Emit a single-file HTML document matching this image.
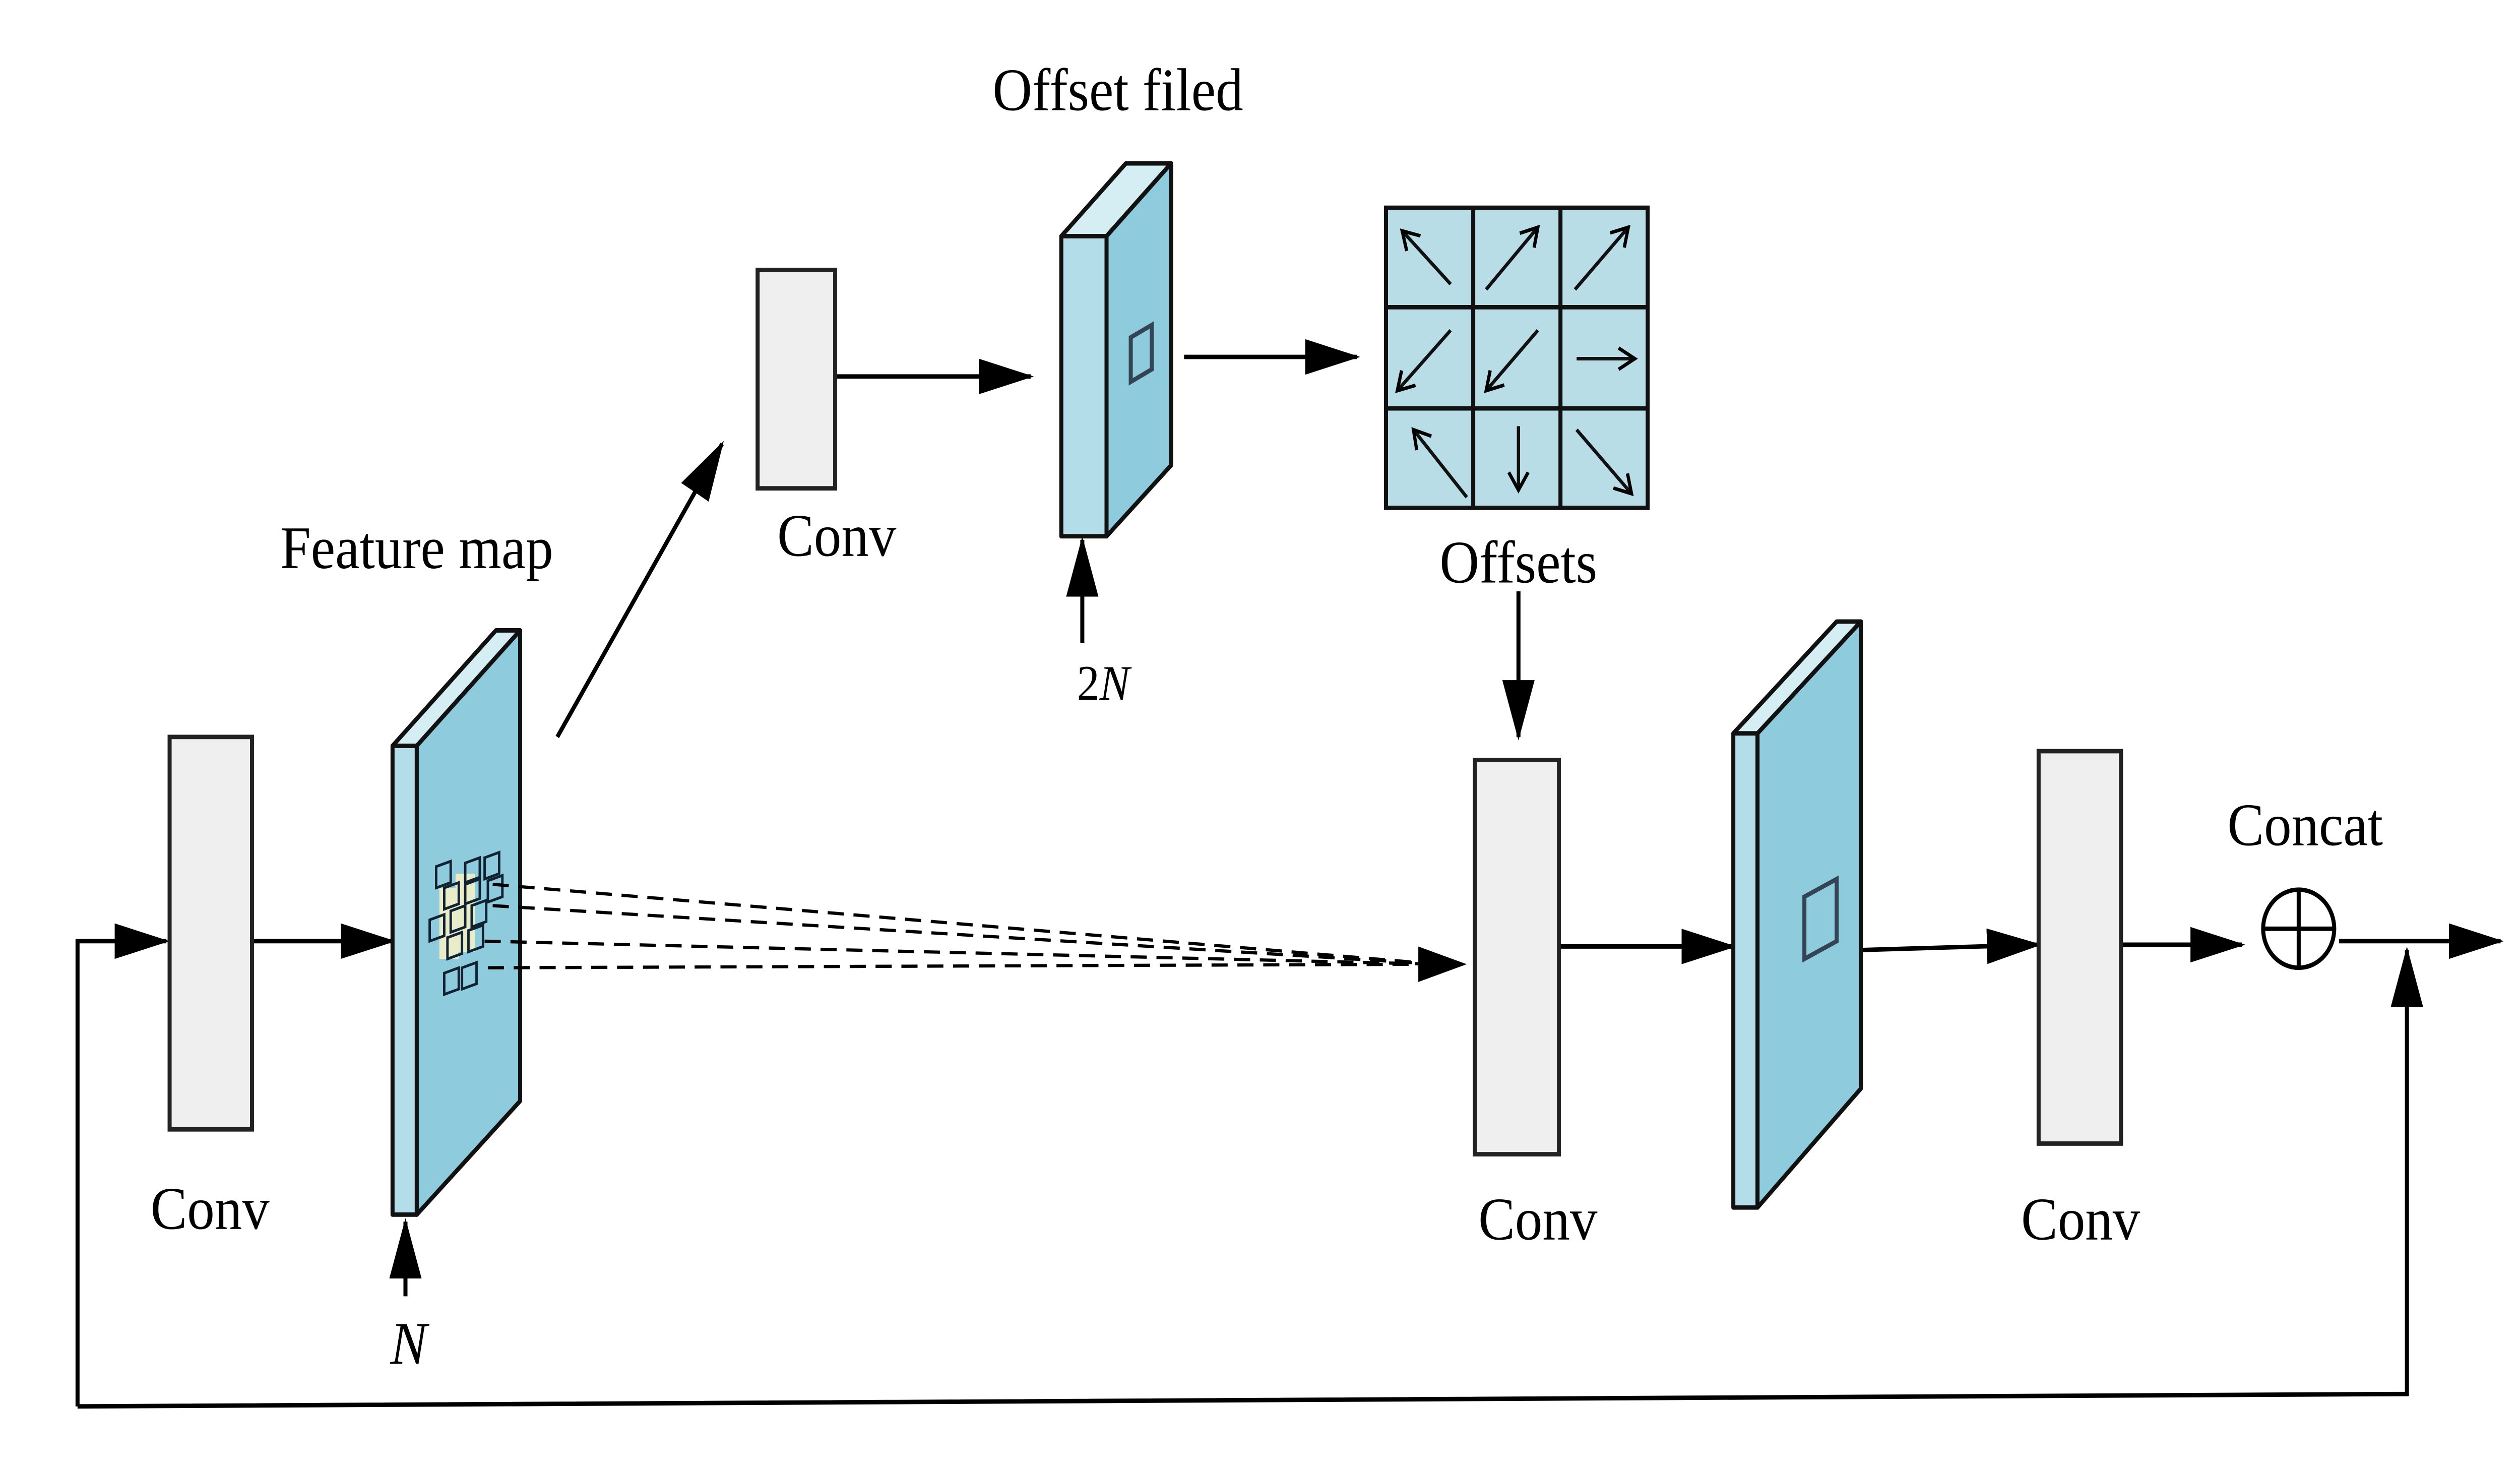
<!DOCTYPE html>
<html><head><meta charset="utf-8"><style>html,body{margin:0;padding:0;background:#fff;width:100%;height:100%;overflow:hidden}svg{display:block;position:fixed;left:0;top:0;width:100vw;height:100vh}</style></head>
<body>
<svg xmlns="http://www.w3.org/2000/svg" viewBox="0 0 1560 825" preserveAspectRatio="none">
<defs>
<marker id="a" markerUnits="userSpaceOnUse" markerWidth="34" markerHeight="24" refX="32" refY="12" orient="auto"><path d="M0,2 L34,12 L0,22 Z" fill="#000"/></marker>
<marker id="s" markerUnits="userSpaceOnUse" markerWidth="14" markerHeight="14" refX="12" refY="7" orient="auto"><path d="M2,1 L12,7 L2,13" fill="none" stroke="#000" stroke-width="2"/></marker>
</defs>
<rect width="1560" height="825" fill="#fff"/>
<g font-family="Liberation Serif, serif" font-size="34" fill="#000" text-anchor="middle">
<text x="130" y="692">Conv</text>
<text x="258" y="320">Feature map</text>
<text x="518" y="313">Conv</text>
<text x="692" y="62">Offset filed</text>
<text x="940" y="328">Offsets</text>
<text x="952" y="698">Conv</text>
<text x="1288" y="698">Conv</text>
<text x="1427" y="476">Concat</text>
<text x="253" y="768" font-style="italic">N</text>
<text x="683" y="394" font-size="28">2<tspan font-style="italic">N</tspan></text>
</g>
<g stroke="#000" stroke-width="2.5" fill="none">
<polyline points="48,792 48,530 103,530" marker-end="url(#a)"/>
<polyline points="48,792 1490,785 1490,535" marker-end="url(#a)"/>
<line x1="156" y1="530" x2="243" y2="530" marker-end="url(#a)"/>
<line x1="251" y1="730" x2="251" y2="688" marker-end="url(#a)"/>
<line x1="345" y1="415" x2="447" y2="250" marker-end="url(#a)"/>
<line x1="517" y1="212" x2="638" y2="212" marker-end="url(#a)"/>
<line x1="670" y1="362" x2="670" y2="304" marker-end="url(#a)"/>
<line x1="733" y1="201" x2="840" y2="201" marker-end="url(#a)"/>
<line x1="940" y1="333" x2="940" y2="415" marker-end="url(#a)"/>
<line x1="965" y1="533" x2="1073" y2="533" marker-end="url(#a)"/>
<line x1="1152" y1="535" x2="1262" y2="532" marker-end="url(#a)"/>
<line x1="1313" y1="532" x2="1388" y2="532" marker-end="url(#a)"/>
<line x1="1448" y1="530" x2="1548" y2="530" marker-end="url(#a)"/>
</g>
<g fill="#efefef" stroke="#222" stroke-width="2.5">
<rect x="105" y="415" width="51" height="221"/>
<rect x="469" y="152" width="48" height="123"/>
<rect x="913" y="428" width="52" height="222"/>
<rect x="1262" y="423" width="51" height="221"/>
</g>
<g stroke="#111" stroke-width="2.5" stroke-linejoin="round">
<polygon points="243,420 258,420 322,355 307,355" fill="#d5eef4"/>
<rect x="243" y="420" width="15" height="264" fill="#b3dde8"/>
<polygon points="258,420 322,355 322,620 258,684" fill="#8ecbdc"/>
</g>
<g stroke="#123" stroke-width="1.5" fill="none">
<rect x="272" y="500" width="12" height="40" fill="#e8ecc8" stroke="none"/>
<rect x="282" y="492" width="12" height="44" fill="#e8ecc8" stroke="none"/>
<path d="M270,488 l9,-3 v12 l-9,3z M288,486 l9,-3 v12 l-9,3z M300,483 l9,-3 v12 l-9,3z M275,500 l9,-3 v12 l-9,3z M288,497 l9,-3 v12 l-9,3z M302,496 l9,-3 v12 l-9,3z M266,518 l9,-3 v12 l-9,3z M279,513 l9,-3 v12 l-9,3z M292,510 l9,-3 v12 l-9,3z M277,528 l9,-3 v12 l-9,3z M290,524 l9,-3 v12 l-9,3z M275,548 l9,-3 v12 l-9,3z M286,545 l9,-3 v12 l-9,3z"/>
</g>
<g stroke="#000" stroke-width="1.8" stroke-dasharray="10,6" fill="none">
<line x1="305" y1="498" x2="890" y2="543"/>
<line x1="305" y1="510" x2="890" y2="543"/>
<line x1="300" y1="530" x2="890" y2="543"/>
<line x1="302" y1="545" x2="890" y2="543"/>
</g>
<path d="M878,533 L908,543 L878,553 Z" fill="#000"/>
<g stroke="#111" stroke-width="2.5" stroke-linejoin="round">
<polygon points="657,133 685,133 725,92 697,92" fill="#d5eef4"/>
<rect x="657" y="133" width="28" height="169" fill="#b3dde8"/>
<polygon points="685,133 725,92 725,262 685,302" fill="#8ecbdc"/>
</g>
<polygon points="700,190 713,183 713,208 700,215" fill="none" stroke="#345" stroke-width="2.5"/>
<g stroke="#111" stroke-width="2.5" stroke-linejoin="round">
<polygon points="1073,413 1088,413 1152,350 1137,350" fill="#d5eef4"/>
<rect x="1073" y="413" width="15" height="267" fill="#b3dde8"/>
<polygon points="1088,413 1152,350 1152,613 1088,680" fill="#8ecbdc"/>
</g>
<polygon points="1117,505 1137,495 1137,530 1117,540" fill="none" stroke="#345" stroke-width="2.5"/>
<g stroke="#111" stroke-width="2.5">
<rect x="858" y="117" width="162" height="169" fill="#b9dde6"/>
<line x1="912" y1="117" x2="912" y2="286"/><line x1="966" y1="117" x2="966" y2="286"/>
<line x1="858" y1="173" x2="1020" y2="173"/><line x1="858" y1="230" x2="1020" y2="230"/>
</g>
<g stroke="#111" stroke-width="2" fill="none">
<line x1="898" y1="160" x2="868" y2="130" marker-end="url(#s)"/>
<line x1="920" y1="163" x2="952" y2="128" marker-end="url(#s)"/>
<line x1="975" y1="163" x2="1008" y2="128" marker-end="url(#s)"/>
<line x1="898" y1="186" x2="865" y2="220" marker-end="url(#s)"/>
<line x1="952" y1="186" x2="920" y2="220" marker-end="url(#s)"/>
<line x1="976" y1="202" x2="1012" y2="202" marker-end="url(#s)"/>
<line x1="908" y1="280" x2="875" y2="242" marker-end="url(#s)"/>
<line x1="940" y1="240" x2="940" y2="276" marker-end="url(#s)"/>
<line x1="976" y1="242" x2="1010" y2="278" marker-end="url(#s)"/>
</g>
<circle cx="1423" cy="523" r="22" fill="#fff" stroke="#000" stroke-width="2.5"/>
<line x1="1401" y1="523" x2="1445" y2="523" stroke="#000" stroke-width="2.5"/>
<line x1="1423" y1="501" x2="1423" y2="545" stroke="#000" stroke-width="2.5"/>
</svg>
</body></html>
